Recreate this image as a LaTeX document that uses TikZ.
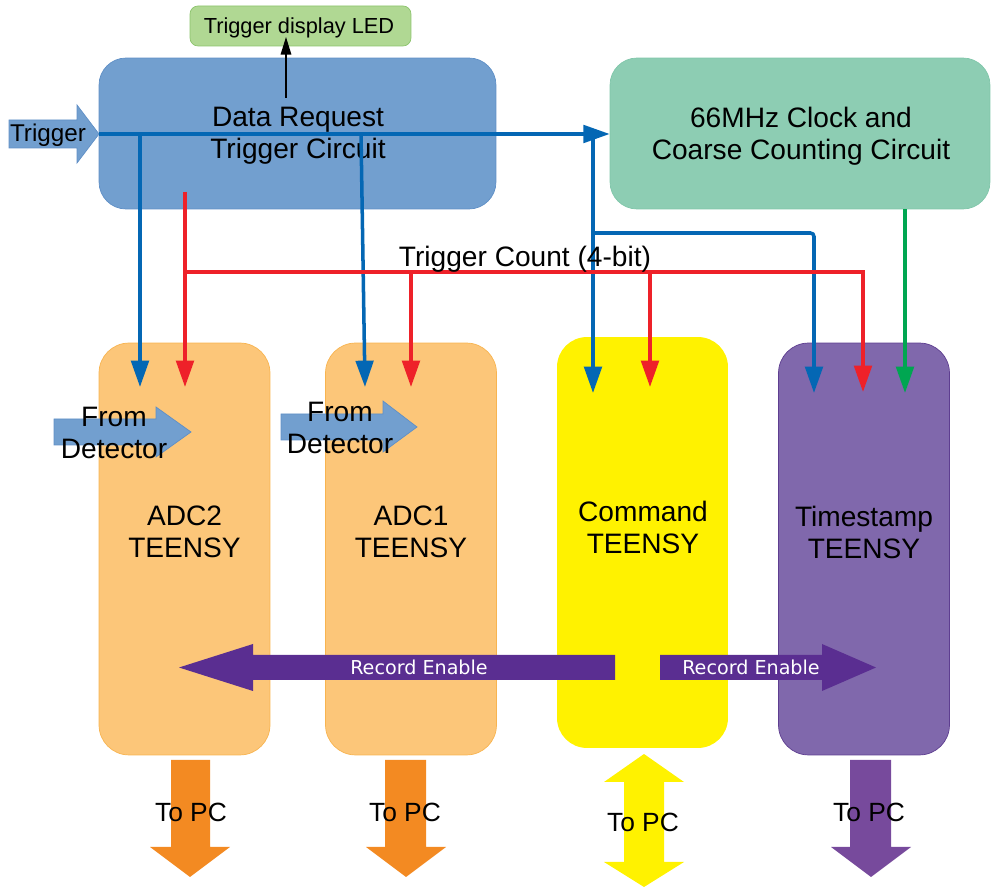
\documentclass[tikz,border=0pt]{standalone}
\usepackage{fontspec}
\setmainfont{Liberation Sans}
\newfontfamily\dejavu{DejaVu Sans}
\usetikzlibrary{arrows.meta}

\definecolor{reqblue}{HTML}{729FCF}
\definecolor{reqedge}{HTML}{5F8FC6}
\definecolor{clkgreen}{HTML}{8DCDB3}
\definecolor{clkedge}{HTML}{80C6AA}
\definecolor{ledgreen}{HTML}{B0D893}
\definecolor{ledgedge}{HTML}{8CC46C}
\definecolor{adcfill}{HTML}{FCC679}
\definecolor{adcedge}{HTML}{F8B450}
\definecolor{cmdyellow}{HTML}{FFF200}
\definecolor{tsfill}{HTML}{8068AC}
\definecolor{tsedge}{HTML}{5E3E90}
\definecolor{recpurple}{HTML}{5A2E91}
\definecolor{pcorange}{HTML}{F38A22}
\definecolor{pcpurple}{HTML}{774A9C}
\definecolor{sigblue}{HTML}{0467B4}
\definecolor{sigred}{HTML}{EE2129}
\definecolor{siggreen}{HTML}{00A651}

\begin{document}
\begin{tikzpicture}[x=0.02cm,y=-0.02cm,
    box/.style={rectangle,rounded corners=0.54cm},
    teensy/.style={rectangle,rounded corners=0.6cm,
                   minimum width=3.42cm,minimum height=8.24cm},
    lbl/.style={align=center,inner sep=0pt,font=\fontsize{16}{18.2}\selectfont},
    pclbl/.style={inner sep=0pt,font=\fontsize{15}{17}\selectfont},
    reclbl/.style={inner sep=0pt,text=white,font=\dejavu\fontsize{10.9}{12}\selectfont},
    sig/.style={line width=2pt,-{Triangle[length=15pt,width=10pt]}}]
    \useasboundingbox (0,0) rectangle (992,888);

    \node[box,fill=reqblue,draw=reqedge,minimum width=7.94cm,minimum height=3.02cm]
        (req) at (297.5,133.5) {};
    \node[box,fill=clkgreen,draw=clkedge,minimum width=7.6cm,minimum height=3.02cm]
        (clk) at (800,133.5) {};
    \node[rectangle,rounded corners=0.16cm,fill=ledgreen,draw=ledgedge,
          minimum width=4.42cm,minimum height=0.8cm]
        (led) at (300.5,26) {};
    \node[lbl] (reqtxt) at (298,136) {Data Request\\Trigger Circuit};
    \node[lbl] (clktxt) at (801,136) {66MHz Clock and\\Coarse Counting Circuit};
    \node[inner sep=0pt,font=\fontsize{12.4}{14}\selectfont] (ledtxt) at (299,28) {Trigger display LED};

    \node[teensy,fill=adcfill,draw=adcedge]  (adc2) at (184.5,549) {};
    \node[teensy,fill=adcfill,draw=adcedge]  (adc1) at (411,549) {};
    \node[teensy,fill=cmdyellow,minimum height=8.22cm] (cmd) at (642.5,542.5) {};
    \node[teensy,fill=tsfill,draw=tsedge]    (ts) at (864,549) {};

    \node[lbl] (adc2txt) at (184.5,532) {ADC2\\TEENSY};
    \node[lbl] (adc1txt) at (411,532)   {ADC1\\TEENSY};
    \node[lbl] (cmdtxt)  at (643,527)   {Command\\TEENSY};
    \node[lbl] (tstxt)   at (864,532)   {Timestamp\\TEENSY};

    \filldraw[fill=reqblue,draw=reqedge]
        (9,120) -- (77,120) -- (77,105) -- (99,134) -- (77,163) -- (77,148) -- (9,148) -- cycle;
    \node[inner sep=0pt,font=\fontsize{13.8}{16}\selectfont] (trigtxt) at (48,135) {Trigger};

    \filldraw[fill=reqblue,draw=reqedge]
        (54,419) -- (156,419) -- (156,407) -- (191,432) -- (156,457) -- (156,445) -- (54,445) -- cycle;
    \filldraw[fill=reqblue,draw=reqedge]
        (281,414) -- (383,414) -- (383,401) -- (417,427) -- (383,452) -- (383,440) -- (281,440) -- cycle;
    \node[lbl] (det2) at (114,433) {From\\Detector};
    \node[lbl] (det1) at (340,428) {From\\Detector};

    \fill[recpurple]
        (615,655) -- (253,655) -- (253,644) -- (179,667.5) -- (253,691) -- (253,680) -- (615,680) -- cycle;
    \fill[recpurple]
        (660,655) -- (822,655) -- (822,644) -- (876,667.5) -- (822,691) -- (822,680) -- (660,680) -- cycle;
    \node[reclbl] (recl) at (419,667.5) {Record Enable};
    \node[reclbl] (recr) at (751,667.5) {Record Enable};

    \fill[pcorange]
        (171,760) -- (210,760) -- (210,847) -- (230,847) -- (190,877) -- (150,847) -- (171,847) -- cycle;
    \fill[pcorange]
        (385,760) -- (426,760) -- (426,847) -- (446,847) -- (406,877) -- (366,847) -- (385,847) -- cycle;
    \fill[cmdyellow]
        (644,754) -- (684,782) -- (664,782) -- (664,862) -- (684,862) -- (644,887)
        -- (604,862) -- (624,862) -- (624,782) -- (604,782) -- cycle;
    \fill[pcpurple]
        (850,760) -- (891,760) -- (891,847) -- (911,847) -- (871,877) -- (831,847) -- (850,847) -- cycle;
    \node[pclbl] (pc2)  at (191,812) {To PC};
    \node[pclbl] (pc1)  at (405,812) {To PC};
    \node[pclbl] (pcc)  at (643,822) {To PC};
    \node[pclbl] (pcts) at (869,812) {To PC};

    \coordinate (trig)   at (99,134);
    \coordinate (a1tap)  at (361,134);
    \coordinate (split)  at (593,233);
    \coordinate (redsrc) at (185,192);
    \coordinate (redbus) at (185,272);
    \coordinate (ledsrc) at (286,98);
    \coordinate (ledtip) at (286,37);
    \coordinate (a2b) at (140,387);
    \coordinate (a2r) at (185,387);
    \coordinate (a1b) at (365,387);
    \coordinate (a1r) at (411,387);
    \coordinate (cb)  at (593,393);
    \coordinate (cr)  at (650,387);
    \coordinate (tb)  at (814,393);
    \coordinate (tr)  at (863,392);
    \coordinate (tg)  at (905,393);

    \draw[-{Triangle[length=10pt,width=6pt]},line width=0.8pt] (ledsrc) -- (ledtip);

    \draw[sig,sigblue] (trig) -- (clk.west |- trig);
    \draw[sig,sigblue] (a2b |- trig) -- (a2b);
    \draw[sig,sigblue] (a1tap) -- (a1b);
    \draw[sig,sigblue] (cb |- trig) -- (cb);
    \draw[sig,sigblue,rounded corners=2pt] (split) -| (tb);

    \draw[sig,sigred] (redsrc) -- (a2r);
    \draw[sig,sigred] (redbus) -| (tr);
    \draw[sig,sigred] (a1r |- redbus) -- (a1r);
    \draw[sig,sigred] (cr |- redbus) -- (cr);

    \draw[sig,siggreen] (clk.south -| tg) -- (tg);

    \node[inner sep=0pt,font=\fontsize{16}{18.2}\selectfont] (cnt) at (525,259) {Trigger Count (4-bit)};
\end{tikzpicture}
\end{document}
